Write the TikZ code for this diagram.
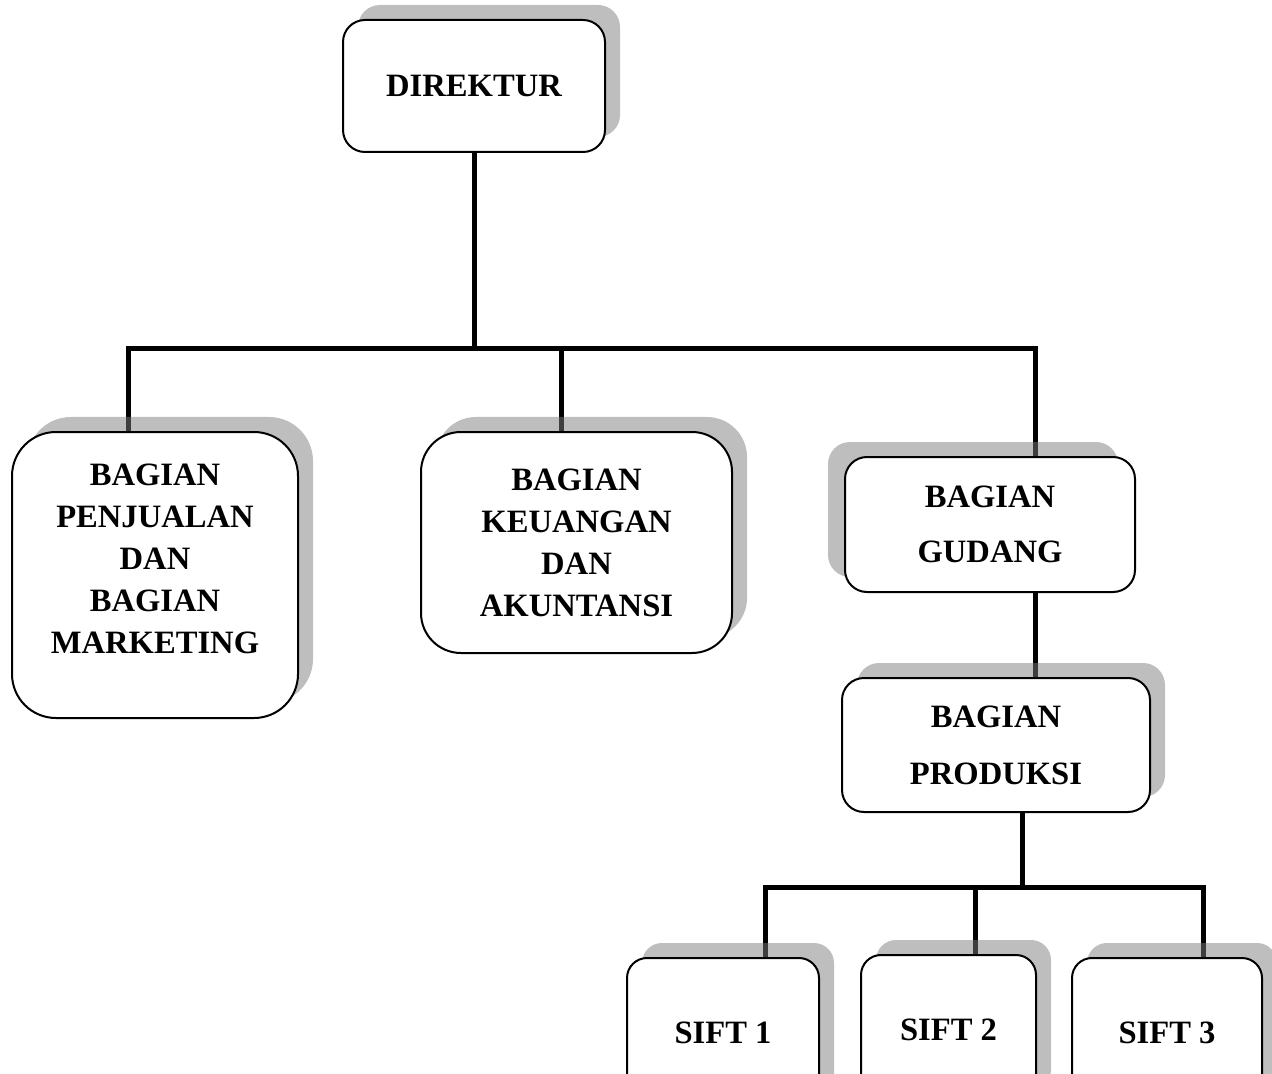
\documentclass[tikz,border=0pt]{standalone}
\usepackage{fontspec}
\setmainfont{Liberation Serif}
\usetikzlibrary{shadows,backgrounds}

\tikzset{
  box/.style={draw, line width=1pt, fill=white, align=center, inner sep=0pt,
    font=\fontsize{16.3}{21}\selectfont\bfseries},
  shadowR/.style={drop shadow={shadow xshift=7.5pt, shadow yshift=7.5pt, fill=black!51, opacity=.5}},
  shadowL/.style={drop shadow={shadow xshift=-8.5pt, shadow yshift=7.5pt, fill=black!51, opacity=.5}},
  conn/.style={line width=2.5pt},
}

\begin{document}
\begin{tikzpicture}[x=0.5pt, y=-0.5pt]
  \useasboundingbox (0,0) rectangle (1272,1074);
  \clip (0,0) rectangle (1272,1074);
  % kotak
  \node[box, shadowR, minimum width=131pt, minimum height=66pt, rounded corners=11pt] (dir) at (474,86) {DIREKTUR};
  \node[box, shadowR, minimum width=143pt, minimum height=143pt, rounded corners=22pt] (penj) at (155,575)
    {BAGIAN\\PENJUALAN\\DAN\\BAGIAN\\MARKETING\\[-5pt]\mbox{}};
  \node[box, shadowR, minimum width=155.5pt, minimum height=110.5pt, rounded corners=20pt] (keu) at (576.5,542.5)
    {BAGIAN\\KEUANGAN\\DAN\\AKUNTANSI};
  \node[box, shadowL, minimum width=145pt, minimum height=67.5pt, rounded corners=11pt] (gud) at (990,524.5)
    {BAGIAN\\[6.5pt]GUDANG};
  \node[box, shadowR, minimum width=154pt, minimum height=67pt, rounded corners=11pt] (prod) at (996,745)
    {BAGIAN\\[7.5pt]PRODUKSI};
  \node[box, shadowR, minimum width=96pt, minimum height=75pt, rounded corners=10pt] (s1) at (723,1033) {SIFT 1};
  \node[box, shadowR, minimum width=87.5pt, minimum height=75pt, rounded corners=10pt] (s2) at (948.5,1030) {SIFT 2};
  \node[box, shadowR, minimum width=95pt, minimum height=75pt, rounded corners=10pt] (s3) at (1167,1033) {SIFT 3};
  % garis
  \begin{scope}[on background layer]
    \coordinate (a1) at (128,349);
    \coordinate (a2) at (561,349);
    \coordinate (a3) at (1035,349);
    \coordinate (b0) at (1022,887);
    \coordinate (b1) at (765,887);
    \coordinate (b2) at (975,887);
    \coordinate (b3) at (1203,887);
    \draw[conn] (dir.south) -- (dir.south |- a1);
    \draw[conn] (a1 |- penj.north) -- (a1) -- (a3) -- (a3 |- gud.north);
    \draw[conn] (a2) -- (a2 |- keu.north);
    \draw[conn] (a3 |- gud.south) -- (a3 |- prod.north);
    \draw[conn] (b0 |- prod.south) -- (b0);
    \draw[conn] (b1 |- s1.north) -- (b1) -- (b3) -- (b3 |- s3.north);
    \draw[conn] (b2) -- (b2 |- s2.north);
  \end{scope}
\end{tikzpicture}
\end{document}
